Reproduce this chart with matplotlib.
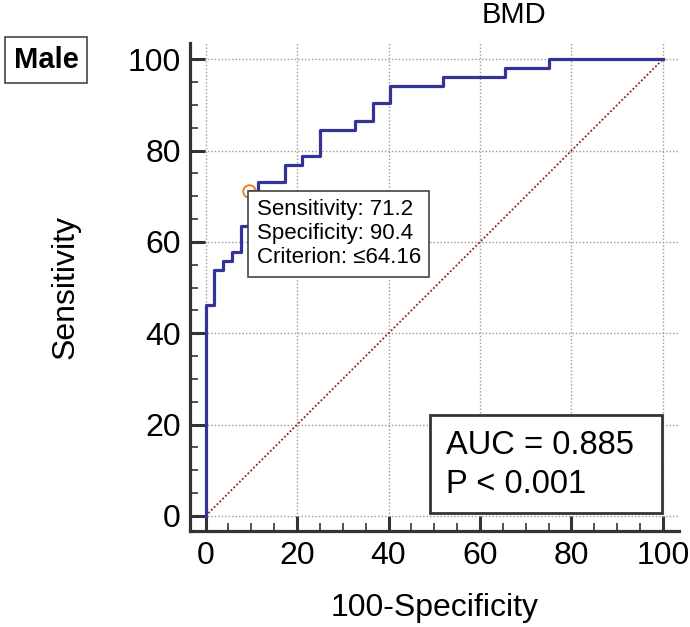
import numpy as np
import matplotlib
matplotlib.use('Agg')
import matplotlib.pyplot as plt
from matplotlib.patches import Rectangle

plt.rcParams['font.family'] = ['Liberation Sans', 'DejaVu Sans']

# ROC corner points (100-Specificity, Sensitivity)
fpr = [0, 1.92, 3.85, 5.77, 7.69, 9.62, 11.54, 17.31, 21.15, 25.0,
       32.69, 36.54, 40.38, 51.92, 65.38, 75.0, 100]
tpr = [0, 46.2, 53.8, 55.8, 57.7, 63.5, 71.2, 73.1, 76.9, 78.8,
       84.6, 86.5, 90.4, 94.2, 96.2, 98.1, 100]

cut_x, cut_y = 9.6, 71.2
cut_text = 'Sensitivity: 71.2\nSpecificity: 90.4\nCriterion: \u226464.16'
auc_text = 'AUC = 0.885\nP < 0.001'
ticks = [0, 20, 40, 60, 80, 100]

fig = plt.figure(figsize=(6.9, 6.27), dpi=100)
fig.patch.set_facecolor('white')
ax = fig.add_axes([0.276, 0.153, 0.708, 0.778])

ax.plot([0, 100], [0, 100], color='#9b1b1b', lw=1.3, ls=(0, (1, 1.2)), zorder=2)
ax.plot(fpr, tpr, drawstyle='steps-pre', color='#33339a', lw=2.3, zorder=3)
ax.plot(cut_x, cut_y, 'o', mfc='none', mec='#f07f20', ms=9, mew=1.4, zorder=4)

ax.text(cut_x + 1.6, cut_y - 1.9, cut_text, fontsize=16, va='top', ha='left',
        linespacing=1.18, zorder=5,
        bbox=dict(boxstyle='square,pad=0.38', fc='white', ec='#444444', lw=1.2))

# AUC box
ax.add_patch(Rectangle((49.1, 0.7), 50.7, 21.4, fc='white', ec='#333333',
                       lw=2, zorder=5))
ax.text(52.6, 11.2, auc_text, fontsize=23.5, va='center', ha='left',
        linespacing=1.32, zorder=6)

ax.set_xlim(-3.3, 103.5)
ax.set_ylim(-3.3, 103.5)
ax.set_xticks(ticks)
ax.set_yticks(ticks)
ax.set_xticks(np.arange(0, 101, 5), minor=True)
ax.set_yticks(np.arange(0, 101, 5), minor=True)
ax.tick_params(which='major', direction='in', length=11, width=2.2,
               color='#333333', labelsize=23, pad=7)
ax.tick_params(which='minor', direction='in', length=6, width=1.2, color='#333333')
ax.grid(True, which='major', color='#999999', ls=(0, (1, 1.5)), lw=1)

for s in ['top', 'right']:
    ax.spines[s].set_visible(False)
for s in ['left', 'bottom']:
    ax.spines[s].set_linewidth(2.3)
    ax.spines[s].set_color('#333333')

ax.set_xlabel('100-Specificity', fontsize=23, labelpad=16)
ax.set_ylabel('Sensitivity', fontsize=23, labelpad=34)

fig.text(514 / 690, 1 - 15 / 627, 'BMD', fontsize=21, ha='center', va='center')
fig.text(46 / 690, 1 - 60 / 627, 'Male', fontsize=21, fontweight='bold',
         ha='center', va='center',
         bbox=dict(boxstyle='square,pad=0.3', fc='white', ec='#444444', lw=1.2))

fig.savefig('out.png', dpi=100)
